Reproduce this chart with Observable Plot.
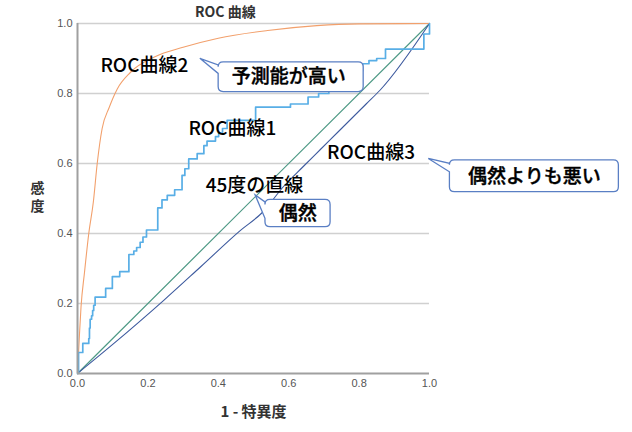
<!DOCTYPE html>
<html>
<head>
<meta charset="utf-8">
<script src="https://cdn.jsdelivr.net/npm/d3@7"></script>
<script src="https://cdn.jsdelivr.net/npm/@observablehq/plot@0.6"></script>
<style>
  html, body { margin: 0; padding: 0; background: #fff; }
  #chart svg { display: block; }
</style>
</head>
<body>
<div id="chart"></div>
<script>
// ---- Data ----
const titleText = "ROC 曲線";
const xLabel = "1 - 特異度";
const yLabel = "感度";
const xTicks = [0, 0.2, 0.4, 0.6, 0.8, 1.0];
const yTicks = [0, 0.2, 0.4, 0.6, 0.8, 1.0];
const gridTicks = [0.2, 0.4, 0.6, 0.8, 1.0];

// ROC curve 1 (step)
const fpr1 = [0, 0.003, 0.015, 0.032, 0.034, 0.036, 0.040, 0.043, 0.046, 0.050, 0.080, 0.099, 0.120, 0.146, 0.160, 0.168, 0.178, 0.186, 0.196, 0.228, 0.240, 0.255, 0.276, 0.297, 0.305, 0.316, 0.340, 0.359, 0.368, 0.392, 0.401, 0.412, 0.425, 0.506, 0.605, 0.655, 0.685, 0.714, 0.740, 0.770, 0.800, 0.810, 0.828, 0.850, 0.875, 0.984, 1.0];
const tpr1 = [0, 0.060, 0.086, 0.100, 0.130, 0.155, 0.165, 0.180, 0.195, 0.218, 0.243, 0.277, 0.291, 0.340, 0.350, 0.360, 0.375, 0.390, 0.410, 0.473, 0.496, 0.509, 0.525, 0.566, 0.585, 0.613, 0.628, 0.651, 0.664, 0.677, 0.687, 0.700, 0.723, 0.761, 0.770, 0.790, 0.800, 0.807, 0.825, 0.845, 0.865, 0.885, 0.894, 0.900, 0.927, 0.970, 1.0];

// ROC curve 2 (smooth, high)
const fpr2 = [0, 0.005, 0.010, 0.020, 0.032, 0.045, 0.056, 0.070, 0.090, 0.113, 0.150, 0.220, 0.300, 0.400, 0.540, 0.680, 0.800, 1.0];
const tpr2 = [0, 0.100, 0.190, 0.290, 0.400, 0.490, 0.600, 0.700, 0.760, 0.813, 0.860, 0.905, 0.932, 0.958, 0.980, 0.994, 0.999, 1.0];

// ROC curve 3 (below diagonal)
const fpr3 = [0, 0.100, 0.245, 0.350, 0.463, 0.525, 0.586, 0.640, 0.690, 0.740, 0.780, 0.820, 0.860, 1.0];
const tpr3 = [0, 0.083, 0.209, 0.305, 0.409, 0.460, 0.535, 0.590, 0.640, 0.690, 0.730, 0.770, 0.810, 1.0];

// 45-degree line
const fprDiag = [0, 1];
const tprDiag = [0, 1];

// Annotation texts
const labelTexts = ["ROC曲線2", "ROC曲線1", "45度の直線", "ROC曲線3"];
const calloutTexts = ["予測能が高い", "偶然よりも悪い", "偶然"];

// ---- Annotation placement (data coordinates) ----
const labelPos = [
  {x: 0.065, y: 0.880},
  {x: 0.315, y: 0.700},
  {x: 0.364, y: 0.537},
  {x: 0.709, y: 0.629}
];
const calloutPos = [
  {x1: 0.401, x2: 0.813, top: 0.889, bottom: 0.804, tipX: 0.349, tipY: 0.899, tail1: 0.880, tail2: 0.856, tx: 0.600, ty: 0.846},
  {x1: 1.058, x2: 1.538, top: 0.609, bottom: 0.518, tipX: 0.998, tipY: 0.613, tail1: 0.599, tail2: 0.575, tx: 1.298, ty: 0.563},
  {x1: 0.534, x2: 0.719, top: 0.496, bottom: 0.418, tipX: 0.506, tipY: 0.509, tail1: 0.489, tail2: 0.442, tx: 0.626, ty: 0.457}
];

const toPts = (xs, ys) => xs.map((x, i) => ({x, y: ys[i]}));

function calloutMark(c) {
  return (index, scales) => {
    const sx = scales.x, sy = scales.y;
    const x1 = sx(c.x1), x2 = sx(c.x2), y1 = sy(c.top), y2 = sy(c.bottom);
    const tx = sx(c.tipX), ty = sy(c.tipY), t1 = sy(c.tail1), t2 = sy(c.tail2);
    const r = 5;
    const d = `M${x1 + r},${y1} H${x2 - r} Q${x2},${y1} ${x2},${y1 + r} V${y2 - r} Q${x2},${y2} ${x2 - r},${y2} H${x1 + r} Q${x1},${y2} ${x1},${y2 - r} V${t2} L${tx},${ty} L${x1},${t1} V${y1 + r} Q${x1},${y1} ${x1 + r},${y1} Z`;
    const g = d3.create("svg:g");
    g.append("path").attr("d", d).attr("fill", "#fff").attr("stroke", "#5a7fc4").attr("stroke-width", 1.3);
    return g.node();
  };
}

const jpFont = "'Noto Sans CJK JP', 'Noto Sans', sans-serif";

const chart = Plot.plot({
  width: 632,
  height: 432,
  marginLeft: 77,
  marginRight: 203,
  marginTop: 23,
  marginBottom: 59,
  style: {background: "#fff", fontFamily: "'Liberation Sans', Arial, sans-serif"},
  x: {domain: [0, 1]},
  y: {domain: [0, 1]},
  marks: [
    Plot.gridY(gridTicks, {stroke: "#d0d0d0", strokeOpacity: 1, strokeWidth: 1.5}),
    Plot.axisX(xTicks, {tickSize: 0, tickPadding: 6, tickFormat: d3.format(".1f"), fontSize: 11, color: "#555", label: null}),
    Plot.axisY(yTicks, {tickSize: 0, tickPadding: 5, tickFormat: d3.format(".1f"), fontSize: 11, color: "#555", label: null}),
    Plot.line(toPts(fprDiag, tprDiag), {x: "x", y: "y", stroke: "#4f9a86", strokeWidth: 1.2}),
    Plot.line(toPts(fpr3, tpr3), {x: "x", y: "y", stroke: "#3d5a9e", strokeWidth: 1.1, curve: "monotone-x"}),
    Plot.line(toPts(fpr2, tpr2), {x: "x", y: "y", stroke: "#f2a06c", strokeWidth: 1.1, curve: "monotone-x"}),
    Plot.line(toPts(fpr1, tpr1), {x: "x", y: "y", stroke: "#58aee6", strokeWidth: 1.7, curve: "step-after"}),
    Plot.ruleX([0], {stroke: "#a0a0a0", strokeWidth: 2}),
    Plot.ruleY([0], {stroke: "#a0a0a0", strokeWidth: 2}),
    ...calloutPos.map(c => calloutMark(c)),
    Plot.text(labelTexts, {x: (d, i) => labelPos[i].x, y: (d, i) => labelPos[i].y, text: d => d, textAnchor: "start", fontSize: 19, fontWeight: 500, fontFamily: jpFont, fill: "#000"}),
    Plot.text(calloutTexts, {x: (d, i) => calloutPos[i].tx, y: (d, i) => calloutPos[i].ty, text: d => d, textAnchor: "middle", fontSize: 19, fontWeight: 500, fontFamily: jpFont, fill: "#000", stroke: "#000", strokeWidth: 0.4}),
    Plot.text([titleText], {x: 0.42, y: 1.0, dy: -11, text: d => d, fontSize: 14, fontWeight: "bold", fontFamily: jpFont, fill: "#333"}),
    Plot.text([xLabel], {x: 0.5, y: 0, dy: 39, text: d => d, fontSize: 15, fontWeight: "bold", fontFamily: jpFont, fill: "#333"}),
    Plot.text([yLabel.split("").join("\n")], {x: 0, y: 0.506, dx: -40, text: d => d, fontSize: 14, lineHeight: 1.3, fontWeight: "bold", fontFamily: jpFont, fill: "#333"})
  ]
});

document.getElementById("chart").appendChild(chart);
</script>
</body>
</html>
